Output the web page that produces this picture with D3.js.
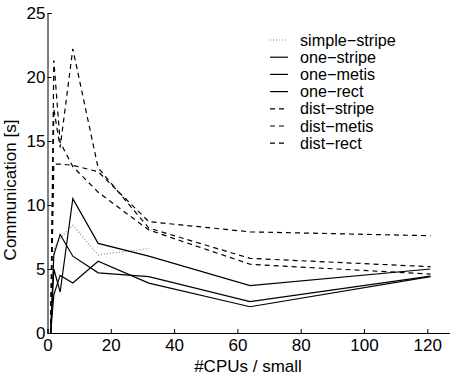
<!DOCTYPE html>
<html><head><meta charset="utf-8">
<script src="https://cdn.jsdelivr.net/npm/d3@7"></script>
<style>body{margin:0;background:#fff}svg{display:block}text{font-family:"Liberation Sans",Arial,sans-serif;fill:#000}</style>
</head><body><svg id="c" width="450" height="378"></svg>
<script>
const cpus = [1, 2, 4, 8, 16, 32, 64, 121];
const simpleStripe = [0, 6.5, 7.4, 8.4, 6.1, 6.6];
const oneStripe = [0, 6.1, 7.7, 6.0, 4.7, 4.4, 2.45, 4.45];
const oneMetis = [0, 5.0, 3.2, 10.5, 7.0, 6.0, 3.7, 5.0];
const oneRect = [0, 3.0, 4.5, 3.9, 5.6, 3.9, 2.05, 4.4];
const distStripe = [0, 13.2, 13.2, 13.1, 12.6, 8.7, 7.9, 7.6];
const distMetis = [0, 17.5, 14.5, 22.2, 12.9, 8.2, 5.83, 5.18];
const distRect = [0, 21.3, 14.9, 13.0, 11.0, 8.05, 5.37, 4.6];
const seriesNames = ["simple\u2212stripe","one\u2212stripe","one\u2212metis","one\u2212rect","dist\u2212stripe","dist\u2212metis","dist\u2212rect"];
const xTicks = [0, 20, 40, 60, 80, 100, 120];
const yTicks = [0, 5, 10, 15, 20, 25];

const series = [
  {name: seriesNames[0], vals: simpleStripe, style: "dot"},
  {name: seriesNames[1], vals: oneStripe, style: "solid"},
  {name: seriesNames[2], vals: oneMetis, style: "solid"},
  {name: seriesNames[3], vals: oneRect, style: "solid"},
  {name: seriesNames[4], vals: distStripe, style: "dash"},
  {name: seriesNames[5], vals: distMetis, style: "dash"},
  {name: seriesNames[6], vals: distRect, style: "dash"}
];
const styleOf = {
  dot: {stroke: "#888", dash: "1,2", w: 1.2},
  solid: {stroke: "#000", dash: null, w: 1.2},
  dash: {stroke: "#000", dash: "5,4", w: 1.2}
};
const FS = 17;

const svg = d3.select("#c");
const x = d3.scaleLinear().domain([0, 128]).range([47.5, 452.6]);
const y = d3.scaleLinear().domain([0, 25]).range([333, 13]);

const line = d3.line().x((d,i)=>x(cpus[i])).y(d=>y(d));
series.forEach(s=>{
  const st = styleOf[s.style];
  svg.append("path").attr("d", line(s.vals)).attr("fill","none")
    .attr("stroke", st.stroke).attr("stroke-width", st.w)
    .attr("stroke-dasharray", st.dash);
});

const xa = svg.append("g").attr("transform","translate(0,333)")
  .call(d3.axisBottom(x).tickValues(xTicks).tickSize(-4).tickPadding(6).tickFormat(d3.format("d")));
const ya = svg.append("g").attr("transform","translate(47.5,0)")
  .call(d3.axisLeft(y).tickValues(yTicks).tickSize(-4).tickPadding(2).tickFormat(d3.format("d")));
[xa, ya].forEach(a=>{
  a.select(".domain").attr("stroke","#000").attr("stroke-width",1);
  a.selectAll(".tick line").attr("stroke","#000");
  a.selectAll("text").attr("font-size",FS).attr("font-family","Liberation Sans, Arial, sans-serif").attr("fill","#000");
});

svg.append("text").attr("x", 248).attr("y", 372).attr("text-anchor","middle")
  .attr("font-size",FS).text("#CPUs / small");
svg.append("text").attr("transform","translate(16,190) rotate(-90)").attr("text-anchor","middle")
  .attr("font-size",FS).text("Communication [s]");

const lg = svg.append("g");
series.forEach((s,i)=>{
  const st = styleOf[s.style];
  const yy = 40 + i*17.2;
  lg.append("line").attr("x1",270).attr("x2",288).attr("y1",yy).attr("y2",yy)
    .attr("stroke",st.stroke).attr("stroke-width",st.w).attr("stroke-dasharray",st.dash);
  lg.append("text").attr("x",300).attr("y",yy).attr("dy","0.35em").attr("font-size",16.2).text(s.name);
});
</script></body></html>
